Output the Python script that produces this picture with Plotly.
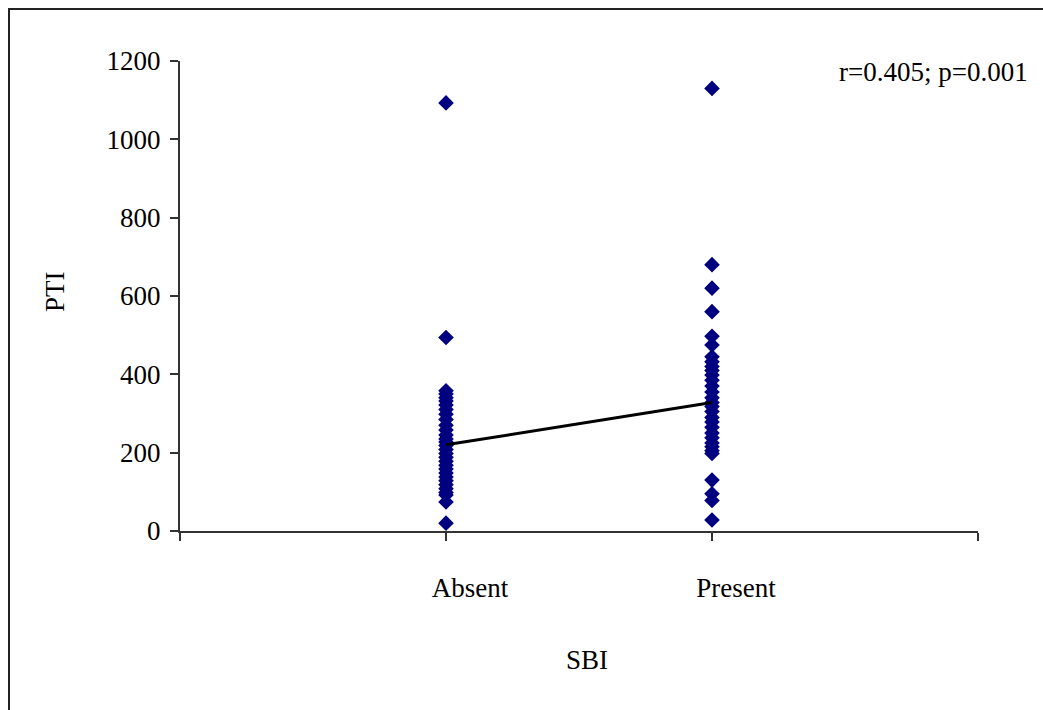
import plotly.graph_objects as go

# ---- data ----
categories = ["Absent", "Present"]
cat_pos = [1, 2]
absent_pti = [1093, 494, 358, 350, 340, 332, 322, 310, 298, 285, 270, 258, 245, 235, 227,
              218, 208, 198, 188, 178, 168, 158, 148, 138, 128, 118, 108, 98, 92, 74, 20]
present_pti = [1130, 680, 620, 560, 497, 475, 445, 432, 420, 410, 398, 385, 370, 355, 340,
               328, 318, 305, 290, 278, 265, 250, 238, 225, 215, 205, 198, 130, 95, 78, 28]
group_means = [220, 328]
y_ticks = [0, 200, 400, 600, 800, 1000, 1200]
x_ticks = [0, 1, 2, 3]
x_ticktext = ["", "Absent", "Present", ""]
stat_text = "r=0.405; p=0.001"

FONT = "Liberation Serif"
NAVY = "#000080"
FS = 27

fig = go.Figure()
fig.add_trace(go.Scatter(
    x=[cat_pos[0]] * len(absent_pti), y=absent_pti, mode="markers",
    marker=dict(symbol="diamond", size=12, color=NAVY, line=dict(width=0)),
    showlegend=False))
fig.add_trace(go.Scatter(
    x=[cat_pos[1]] * len(present_pti), y=present_pti, mode="markers",
    marker=dict(symbol="diamond", size=12, color=NAVY, line=dict(width=0)),
    showlegend=False))
fig.add_trace(go.Scatter(
    x=cat_pos, y=group_means, mode="lines",
    line=dict(color="black", width=3), showlegend=False))

fig.update_layout(
    width=1043, height=710,
    margin=dict(l=180, r=65, t=61, b=179),
    paper_bgcolor="white", plot_bgcolor="white",
    font=dict(family=FONT, size=FS, color="black"),
    xaxis=dict(range=[0, 3], tickvals=x_ticks, ticktext=x_ticktext,
               showgrid=False, zeroline=False, showline=True, linecolor="#333",
               linewidth=2, ticks="outside", ticklen=8, tickwidth=1.5, tickcolor="#333",
               ticklabelshift=24, ticklabelstandoff=24,
               tickfont=dict(family=FONT, size=FS, color="black")),
    yaxis=dict(range=[0, 1200], tickvals=y_ticks,
               showgrid=False, zeroline=False, showline=True, linecolor="#333",
               linewidth=2, ticks="outside", ticklen=8, tickwidth=1.5, tickcolor="#333",
               ticklabelstandoff=4,
               tickfont=dict(family=FONT, size=FS, color="black")),
    annotations=[
        dict(text="SBI", xref="paper", yref="paper", x=(587 - 180) / 798, y=-(660 - 531) / 470,
             showarrow=False, xanchor="center", yanchor="middle",
             font=dict(family=FONT, size=FS, color="black")),
        dict(text="PTI", xref="paper", yref="paper", x=-(180 - 55) / 798, y=(531 - 292) / 470,
             showarrow=False, xanchor="center", yanchor="middle", textangle=-90,
             font=dict(family=FONT, size=FS, color="black")),
        dict(text=stat_text, xref="paper", yref="paper", x=(1030 - 180) / 798, y=(531 - 72) / 470,
             showarrow=False, xanchor="right", yanchor="middle",
             font=dict(family=FONT, size=FS, color="black")),
    ],
    shapes=[
        dict(type="rect", xref="paper", yref="paper",
             x0=-(180 - 9) / 798, x1=(1060 - 180) / 798,
             y0=-(730 - 531) / 470, y1=(531 - 9) / 470,
             line=dict(color="#222", width=2), fillcolor="rgba(0,0,0,0)", layer="below"),
    ],
)

fig.write_html("out.html")
